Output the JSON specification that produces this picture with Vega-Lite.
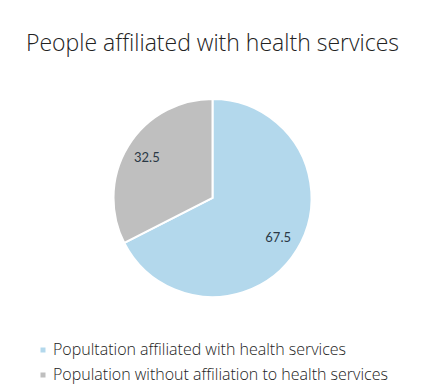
{
  "$schema": "https://vega.github.io/schema/vega-lite/v6.json",
  "width": 425,
  "height": 376,
  "autosize": "none",
  "padding": {"top": 10, "left": 0, "right": 0, "bottom": 0},
  "background": "white",
  "view": {"stroke": null},
  "title": {
    "text": "People affiliated with health services",
    "anchor": "middle",
    "frame": "group",
    "orient": "top",
    "offset": -46,
    "font": "Open Sans",
    "fontWeight": 300,
    "fontSize": 23,
    "color": "#222222"
  },
  "data": {
    "values": [
      {"group": "Popultation affiliated with health services", "value": 67.5, "order": 1},
      {"group": "Population without affiliation to health services", "value": 32.5, "order": 2}
    ]
  },
  "encoding": {
    "theta": {"field": "value", "type": "quantitative", "stack": true},
    "order": {"field": "order", "type": "quantitative"}
  },
  "layer": [
    {
      "mark": {"type": "arc", "outerRadius": 99, "stroke": "white", "strokeWidth": 2},
      "encoding": {
        "color": {
          "field": "group",
          "type": "nominal",
          "scale": {
            "domain": ["Popultation affiliated with health services", "Population without affiliation to health services"],
            "range": ["#b3d8ec", "#bfbfbf"]
          },
          "legend": {
            "title": null,
            "orient": "none",
            "legendX": 35,
            "legendY": 332,
            "padding": 0,
            "symbolType": "square",
            "symbolSize": 25,
            "symbolStrokeWidth": 0,
            "labelFont": "Open Sans",
            "labelFontWeight": 300,
            "labelFontSize": 16,
            "labelColor": "#222222",
            "labelOffset": 2,
            "labelLimit": 420,
            "rowPadding": 9
          }
        }
      }
    },
    {
      "mark": {"type": "text", "radius": 77, "font": "Lato", "fontSize": 13},
      "encoding": {
        "text": {"field": "value", "type": "quantitative"},
        "color": {"value": "#2a3845"}
      }
    }
  ]
}
